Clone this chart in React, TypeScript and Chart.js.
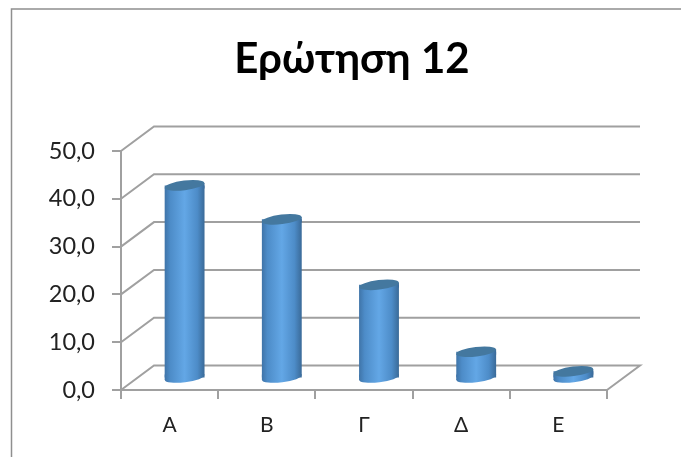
import React, { useEffect, useRef } from "react";
import { Chart, registerables } from "chart.js";

Chart.register(...registerables);

const categories = ["Α", "Β", "Γ", "Δ", "Ε"];
const values = [40.4, 33.3, 19.6, 5.6, 1.5];
const yTicks = [0, 10, 20, 30, 40, 50];
const titleText = "Ερώτηση 12";
const FONT = "Lato, 'Open Sans', 'Noto Sans', sans-serif";

const GRID = "#a0a0a0";
const DEPTH_X = 33;
const DEPTH_Y = -24.5;
const BAR_DX = 15;
const BAR_DY = -11.5;
const TILT = -0.12;
const BAR_SHARE = 0.41;
const CAP_RY = 4.8;

function cylinderGradient(ctx: CanvasRenderingContext2D, from: number, to: number) {
  const g = ctx.createLinearGradient(from, 0, to, 0);
  g.addColorStop(0, "#3f74a8");
  g.addColorStop(0.14, "#4d8cc8");
  g.addColorStop(0.5, "#63a7e6");
  g.addColorStop(0.82, "#4d8cc8");
  g.addColorStop(1, "#3a6a98");
  return g;
}

function fillBand(ctx: CanvasRenderingContext2D, el: any, cy: number, reach: number) {
  const cx = el.x + BAR_DX;
  const rx = el.width / 2;
  const lift = rx * Math.sin(TILT);
  ctx.fillStyle = cylinderGradient(ctx, cx - rx, cx + rx);
  ctx.beginPath();
  ctx.moveTo(cx - rx, cy - lift);
  ctx.lineTo(cx + rx, cy + lift);
  ctx.lineTo(cx + rx, cy + reach);
  ctx.lineTo(cx - rx, cy + reach);
  ctx.closePath();
  ctx.fill();
}

const depthPlugin = {
  id: "depth",
  afterLayout(chart: any) {
    if (chart.titleBlock) chart.titleBlock.left = chart.scales.y.right - 24;
  },
  beforeDatasetsDraw(chart: any) {
    const { ctx, scales } = chart;
    const left = scales.x.left;
    const right = scales.x.right;
    ctx.save();
    ctx.strokeStyle = GRID;
    ctx.lineWidth = 2;
    yTicks.forEach((t) => {
      const y = scales.y.getPixelForValue(t);
      ctx.beginPath();
      ctx.moveTo(left, y);
      ctx.lineTo(left + DEPTH_X, y + DEPTH_Y);
      ctx.lineTo(right + DEPTH_X, y + DEPTH_Y);
      if (t === 0) ctx.lineTo(right, y);
      ctx.stroke();
    });
    ctx.restore();
  },
  beforeDatasetDraw(chart: any) {
    const { ctx } = chart;
    const meta = chart.getDatasetMeta(0);
    ctx.save();
    meta.data.forEach((el: any) => {
      const cx = el.x + BAR_DX;
      const cy = el.base + BAR_DY;
      ctx.fillStyle = cylinderGradient(ctx, cx - el.width / 2, cx + el.width / 2);
      ctx.beginPath();
      ctx.ellipse(cx, cy, el.width / 2, CAP_RY, TILT, 0, Math.PI * 2);
      ctx.fill();
      fillBand(ctx, el, cy, -3);
    });
    ctx.restore();
    ctx.save();
    ctx.translate(BAR_DX, BAR_DY);
  },
  afterDatasetDraw(chart: any) {
    const { ctx } = chart;
    ctx.restore();
    const meta = chart.getDatasetMeta(0);
    ctx.save();
    meta.data.forEach((el: any) => {
      const cy = el.y + BAR_DY;
      fillBand(ctx, el, cy, 3);
      ctx.fillStyle = "#44789f";
      ctx.beginPath();
      ctx.ellipse(el.x + BAR_DX, cy, el.width / 2, CAP_RY, TILT, 0, Math.PI * 2);
      ctx.fill();
    });
    ctx.restore();
  },
  afterDraw(chart: any) {
    const { ctx, width, height } = chart;
    ctx.save();
    ctx.strokeStyle = "#8f8f8f";
    ctx.lineWidth = 1.5;
    ctx.beginPath();
    ctx.moveTo(11.5, height);
    ctx.lineTo(11.5, 9);
    ctx.lineTo(width, 9);
    ctx.stroke();
    ctx.restore();
  },
};

export default function App() {
  const ref = useRef<HTMLCanvasElement>(null);
  useEffect(() => {
    const chart = new Chart(ref.current!, {
      type: "bar",
      plugins: [depthPlugin],
      data: {
        labels: categories,
        datasets: [
          {
            label: titleText,
            data: values,
            barPercentage: BAR_SHARE,
            categoryPercentage: 1,
            backgroundColor: (c: any) => {
              const x = c.chart.scales?.x;
              const center = x && c.dataIndex !== undefined ? x.getPixelForValue(c.dataIndex) : NaN;
              const w = x ? ((x.right - x.left) / categories.length) * BAR_SHARE : NaN;
              if (!Number.isFinite(center) || !Number.isFinite(w)) return "#5a9bd8";
              return cylinderGradient(c.chart.ctx, center - w / 2, center + w / 2);
            },
          },
        ],
      },
      options: {
        responsive: false,
        animation: false,
        layout: { padding: { left: 24, right: 74, top: 0, bottom: 0 } },
        plugins: {
          legend: { display: false },
          tooltip: { enabled: false },
          title: {
            display: true,
            text: titleText,
            color: "#000",
            font: { family: FONT, size: 42, weight: "bold", lineHeight: 1.2 },
            padding: { top: 34, bottom: 66.6 },
          },
        },
        scales: {
          x: {
            afterFit: (s: any) => {
              s.height = 67;
            },
            border: { color: GRID, width: 2 },
            grid: { drawOnChartArea: false, color: GRID, lineWidth: 2, tickLength: 9, offset: true },
            ticks: { color: "#222", padding: 14, font: { family: FONT, size: 21 } },
          },
          y: {
            min: 0,
            max: 50,
            afterFit: (s: any) => {
              s.width = 97;
            },
            afterBuildTicks: (s: any) => {
              s.ticks = yTicks.map((value) => ({ value }));
            },
            border: { color: GRID, width: 2 },
            grid: { drawOnChartArea: false, color: GRID, lineWidth: 2, tickLength: 9 },
            ticks: {
              color: "#222",
              padding: 17,
              font: { family: FONT, size: 23.5 },
              callback: (v: any) => Number(v).toFixed(1).replace(".", ","),
            },
          },
        },
      },
    } as any);
    return () => chart.destroy();
  }, []);
  return (
    <canvas
      ref={ref}
      width={681}
      height={457}
      style={{ position: "fixed", left: 0, top: 0, width: 681, height: 457, background: "#fff", filter: "blur(0.6px)" }}
    />
  );
}
